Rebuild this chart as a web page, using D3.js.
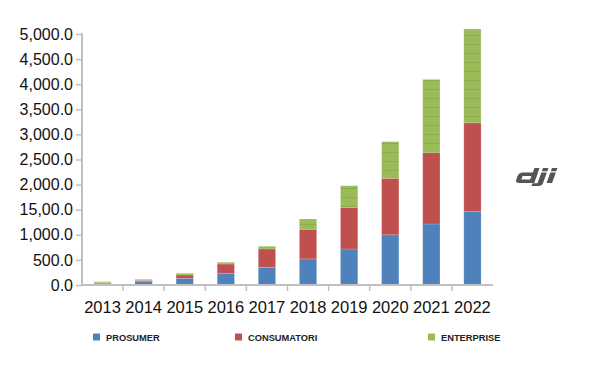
<!DOCTYPE html>
<html>
<head>
<meta charset="utf-8">
<script src="https://cdn.jsdelivr.net/npm/d3@7"></script>
<style>
  body { margin: 0; background: #fff; }
  svg { display: block; font-family: "Liberation Sans", Arial, sans-serif; }
</style>
</head>
<body>
<script>
const WIDTH = 600;
const HEIGHT = 375;

// chart values
const years = ["2013", "2014", "2015", "2016", "2017", "2018", "2019", "2020", "2021", "2022"];
const prosumer = [33, 66, 133, 233, 352, 520, 717, 1000, 1215, 1460];
const consumatori = [13, 27, 66, 185, 365, 590, 830, 1125, 1420, 1770];
const enterprise = [20, 20, 34, 35, 55, 205, 430, 730, 1460, 1870];
const seriesNames = ["PROSUMER", "CONSUMATORI", "ENTERPRISE"];
const seriesColors = ["#4f81bd", "#c0504d", "#9bbb59"];
const yTicks = [0, 500, 1000, 1500, 2000, 2500, 3000, 3500, 4000, 4500, 5000];
const yTickLabels = ["0.0", "500.0", "1,000.0", "15,00.0", "2,000.0", "2,500.0",
                     "3,000.0", "3,500.0", "4,000.0", "4,500.0", "5,000.0"];

const PLOT = {LEFT: 82, RIGHT: 493, TOP: 34, BOTTOM: 285};

var svg = d3.select("body").append("svg")
    .attr("width", WIDTH)
    .attr("height", HEIGHT);

// faint horizontal stripes on the green segments
var defs = svg.append("defs");
var pat = defs.append("pattern")
    .attr("id", "stripes")
    .attr("patternUnits", "userSpaceOnUse")
    .attr("width", 20)
    .attr("height", 9);
pat.append("rect").attr("width", 20).attr("height", 9).attr("fill", "#9bbb59");
pat.append("rect").attr("y", 8).attr("width", 20).attr("height", 1).attr("fill", "#8cad4c");

var x = d3.scaleBand()
    .domain(years)
    .range([PLOT.LEFT, PLOT.RIGHT])
    .paddingInner(0.58)
    .paddingOuter(0.29);

var bandEdges = d3.scaleBand()
    .domain(years)
    .range([PLOT.LEFT, PLOT.RIGHT]);

var y = d3.scaleLinear()
    .domain([0, 5000])
    .range([PLOT.BOTTOM, PLOT.TOP]);

// stack the three series
var rows = years.map(function(yr, i) {
    return {year: yr, PROSUMER: prosumer[i], CONSUMATORI: consumatori[i], ENTERPRISE: enterprise[i]};
});
var stacked = d3.stack().keys(seriesNames)(rows);

var layers = svg.append("g").selectAll("g")
    .data(stacked)
    .join("g")
    .attr("fill", function(d, i) { return i == 2 ? "url(#stripes)" : seriesColors[i]; });

layers.selectAll("rect")
    .data(function(d) { return d; })
    .join("rect")
    .attr("x", function(d) { return x(d.data.year); })
    .attr("width", x.bandwidth())
    .attr("y", function(d) { return y(d[1]); })
    .attr("height", function(d) { return y(d[0]) - y(d[1]); })
    .attr("stroke", "#ffffff")
    .attr("stroke-opacity", 0.2)
    .attr("stroke-width", 0.8);

// y axis
var yAxis = d3.axisLeft(y)
    .tickValues(yTicks)
    .tickSize(6)
    .tickFormat(function(d, i) { return yTickLabels[i]; });

var gy = svg.append("g")
    .attr("transform", "translate(" + PLOT.LEFT + ",0)")
    .call(yAxis);
gy.select(".domain").attr("stroke", "#c0c0c0").attr("stroke-width", 2)
    .attr("d", "M0," + PLOT.BOTTOM + "V" + (PLOT.TOP - 1));
gy.selectAll(".tick line").attr("stroke", "#c0c0c0").attr("stroke-width", 1.5);
gy.selectAll(".tick text")
    .attr("x", -9)
    .attr("font-size", 16)
    .attr("font-family", "'Liberation Sans', Arial, sans-serif")
    .attr("fill", "#111");

// x axis, ticks sit between the categories
var gx = svg.append("g")
    .attr("transform", "translate(0," + PLOT.BOTTOM + ")");
gx.append("line")
    .attr("x1", PLOT.LEFT).attr("x2", PLOT.RIGHT)
    .attr("stroke", "#c0c0c0").attr("stroke-width", 2);
gx.selectAll(".sep")
    .data(years.slice(1))
    .join("line")
    .attr("class", "sep")
    .attr("x1", function(d) { return bandEdges(d); })
    .attr("x2", function(d) { return bandEdges(d); })
    .attr("y1", 0).attr("y2", 6)
    .attr("stroke", "#c0c0c0").attr("stroke-width", 1.5);
gx.selectAll(".lbl")
    .data(years)
    .join("text")
    .attr("class", "lbl")
    .attr("x", function(d) { return bandEdges(d) + bandEdges.bandwidth() / 2; })
    .attr("y", 28)
    .attr("text-anchor", "middle")
    .attr("font-size", 16.5)
    .attr("fill", "#111")
    .text(function(d) { return d; });

// legend
var legendX = [93, 235, 428];
var legend = svg.append("g").selectAll("g")
    .data(seriesNames)
    .join("g")
    .attr("transform", function(d, i) { return "translate(" + legendX[i] + ",337)"; });
legend.append("rect")
    .attr("y", -3.5).attr("width", 7).attr("height", 7)
    .attr("fill", function(d, i) { return seriesColors[i]; });
legend.append("text")
    .attr("x", 13)
    .attr("y", 3.5)
    .attr("font-size", 9.3)
    .attr("font-weight", "bold")
    .attr("fill", "#222")
    .text(function(d) { return d; });

// dji logo, drawn as slanted shapes
var logo = svg.append("g")
    .attr("transform", "translate(515,168) skewX(-20) translate(5.5,0)")
    .attr("fill", "#555555");
logo.append("path")
    .attr("d", "M4,4.5 H19 V15 H4 Q0,15 0,11.5 V8 Q0,4.5 4,4.5 Z M5,8 V11.5 H14 V8 Z")
    .attr("fill-rule", "evenodd");
logo.append("rect").attr("x", 14).attr("y", 0).attr("width", 5).attr("height", 15);
logo.append("rect").attr("x", 22.5).attr("y", 0).attr("width", 5.5).attr("height", 3.2);
logo.append("path").attr("d", "M22.5,4.5 H28 V15 Q28,18 24.5,18 H17.5 V15.2 H22.5 Z");
logo.append("rect").attr("x", 31.5).attr("y", 0).attr("width", 5.5).attr("height", 3.2);
logo.append("rect").attr("x", 31.5).attr("y", 4.5).attr("width", 5.5).attr("height", 10.5);
</script>
</body>
</html>
